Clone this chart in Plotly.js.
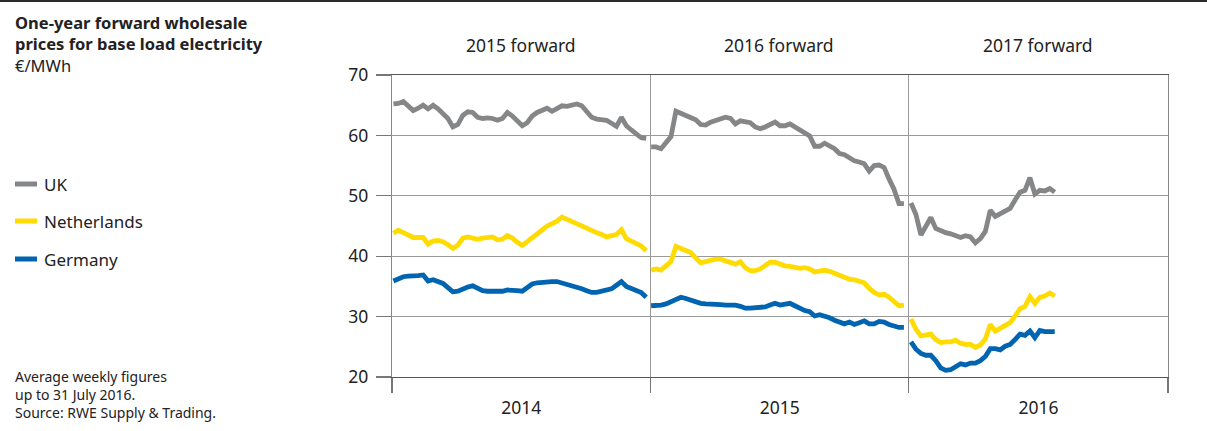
<!DOCTYPE html>
<html>
<head>
<meta charset="utf-8">
<script src="https://cdn.plot.ly/plotly-3.0.1.min.js"></script>
<style>
  html, body { margin: 0; padding: 0; background: #fff; }
  #wrap { position: relative; width: 1207px; height: 431px; }
  #rule { position: absolute; left: 0; top: 0; width: 1207px; height: 2px; background: #2b2b2b; z-index: 5; }
  #chart { width: 1207px; height: 431px; }
</style>
</head>
<body>
<div id="wrap"><div id="rule"></div><div id="chart"></div></div>
<script>
// ---- Data (€/MWh, average weekly one-year forward prices) ----
const segmentStarts = ['2014-01-03', '2015-01-02', '2016-01-04'];
const segmentLabels = ['2015 forward', '2016 forward', '2017 forward'];
const yearLabels = ['2014', '2015', '2016'];

const uk2014 = [65.2,65.3,65.6,64.9,64.1,64.5,65.0,64.4,65.0,64.4,63.5,62.8,61.4,61.8,63.3,63.9,63.8,63.0,62.8,62.9,62.8,62.5,62.8,63.8,63.2,62.5,61.6,62.1,63.2,63.8,64.2,64.5,64.0,64.4,64.9,64.8,65.1,65.2,64.9,64.0,63.0,62.7,62.6,62.5,62.0,61.5,63.0,61.6,60.9,60.3,59.6,59.5];
const uk2015 = [58.1,58.1,57.8,58.7,59.8,64.0,63.6,63.4,62.9,62.6,61.8,61.7,62.2,62.4,62.8,63.0,62.8,61.9,62.4,62.2,62.1,61.4,61.1,61.4,61.8,62.2,61.6,61.6,61.9,61.4,60.8,60.3,59.9,58.2,58.2,58.7,58.2,57.8,57.0,56.8,56.3,55.8,55.6,55.3,54.1,55.0,55.1,54.7,52.8,51.1,48.7,48.7];
const uk2016 = [48.8,46.9,43.5,44.9,46.4,44.6,44.2,43.9,43.7,43.4,43.1,43.4,43.2,42.2,42.9,44.1,47.6,46.6,47.0,47.6,47.9,49.3,50.6,50.9,53.0,50.3,50.9,50.8,51.2,50.6];

const nl2014 = [43.8,44.3,43.9,43.5,43.1,43.1,43.1,42.0,42.5,42.6,42.4,41.9,41.3,41.8,43.0,43.2,43.1,42.8,43.0,43.2,43.2,42.7,42.8,43.4,43.0,42.3,41.8,42.4,43.1,43.7,44.3,45.0,45.4,45.8,46.5,46.1,45.7,45.4,44.9,44.5,44.2,43.9,43.6,43.2,43.4,43.6,44.4,42.9,42.5,42.1,41.7,40.9];
const nl2015 = [37.7,37.9,37.7,38.3,39.1,41.6,41.3,41.1,40.6,39.7,38.9,39.1,39.4,39.5,39.5,39.2,38.9,38.7,39.1,38.1,37.6,37.6,37.9,38.4,39.0,39.0,38.6,38.4,38.3,38.1,38.0,38.1,37.9,37.4,37.5,37.7,37.5,37.2,36.9,36.4,36.2,36.1,35.9,35.6,34.7,34.0,33.6,33.7,33.2,32.5,31.8,31.9];
const nl2016 = [29.6,27.9,26.8,27.0,27.1,26.2,25.7,25.8,25.8,26.1,25.6,25.4,25.4,24.9,25.3,26.3,28.7,27.6,28.0,28.5,29.0,30.1,31.3,31.7,33.3,32.2,33.2,33.4,33.9,33.4];

const de2014 = [35.9,36.3,36.6,36.7,36.7,36.8,36.9,35.9,36.1,35.9,35.5,34.8,34.1,34.2,34.6,34.9,35.1,34.6,34.3,34.2,34.2,34.1,34.2,34.4,34.4,34.3,34.2,34.8,35.4,35.6,35.7,35.7,35.8,35.8,35.6,35.4,35.0,34.8,34.6,34.3,34.0,34.0,34.2,34.3,34.6,35.2,35.8,35.0,34.6,34.3,34.0,33.2];
const de2015 = [31.8,31.8,31.9,32.1,32.5,32.9,33.2,33.0,32.7,32.3,32.2,32.1,32.1,32.0,32.0,31.9,31.9,31.9,31.7,31.4,31.4,31.5,31.5,31.6,31.9,32.2,31.9,32.0,32.2,31.8,31.3,31.0,30.8,30.1,30.3,30.1,29.8,29.4,29.0,28.8,29.1,28.7,29.0,29.3,28.8,28.8,29.2,29.1,28.7,28.4,28.2,28.2];
const de2016 = [25.8,24.6,23.9,23.6,23.6,22.7,21.5,21.1,21.2,21.6,22.2,22.0,22.3,22.3,22.7,23.4,24.7,24.7,24.5,25.1,25.4,26.2,27.1,26.9,27.6,26.5,27.7,27.5,27.4,27.5];

const seriesNames = ['UK', 'Netherlands', 'Germany'];
const seriesColors = ['#858688', '#ffdb00', '#0064b1'];
const seriesData = [[uk2014, uk2015, uk2016], [nl2014, nl2015, nl2016], [de2014, de2015, de2016]];

// ---- helpers ----
function weeklyDates(start, n) {
  const out = [];
  const d0 = new Date(start + 'T00:00:00Z');
  for (let i = 0; i < n; i++) {
    const d = new Date(d0.getTime() + i * 7 * 86400000);
    out.push(d.toISOString().slice(0, 10));
  }
  return out;
}
function buildTrace(segments, name, color) {
  let x = [], y = [];
  segments.forEach((vals, k) => {
    if (k > 0) { x.push(null); y.push(null); }
    x = x.concat(weeklyDates(segmentStarts[k], vals.length));
    y = y.concat(vals);
  });
  return { type: 'scatter', mode: 'lines', name: name, x: x, y: y, connectgaps: false,
           line: { color: color, width: 4.8, shape: 'linear' }, showlegend: false, hoverinfo: 'skip' };
}

const traces = seriesData.map((s, i) => buildTrace(s, seriesNames[i], seriesColors[i]));

// ---- layout geometry ----
const W = 1207, H = 431, L = 392, R = 39, T = 75, B = 54;
const pw = W - L - R, ph = H - T - B;
const px = v => (v - L) / pw;            // pixel x -> paper
const py = v => 1 - (v - T) / ph;        // pixel y -> paper
const FONT = 'Noto Sans, Open Sans, sans-serif';
const TXT = '#222222';

const annotations = [];
// title block
annotations.push({ xref: 'paper', yref: 'paper', x: px(13), y: py(9), xanchor: 'left', yanchor: 'top', align: 'left', showarrow: false,
  text: '<b>One-year forward wholesale<br>prices for base load electricity</b><br>€/MWh', font: { family: FONT, size: 16.5, color: TXT } });
// header segment labels
const midYear = ['2014-07-02', '2015-07-02', '2016-07-02'];
segmentLabels.forEach((t, i) => annotations.push({ xref: 'x', yref: 'paper', x: midYear[i], y: py(45), yanchor: 'middle', xanchor: 'center', showarrow: false,
  text: t, font: { family: FONT, size: 17.5, color: TXT } }));
// legend
const legendY = [184, 221, 259];
const shapes = [];
seriesNames.forEach((n, i) => {
  shapes.push({ type: 'line', xref: 'paper', yref: 'paper', x0: px(15), x1: px(37), y0: py(legendY[i]), y1: py(legendY[i]),
    line: { color: seriesColors[i], width: 5 } });
  annotations.push({ xref: 'paper', yref: 'paper', x: px(42), y: py(legendY[i]), xanchor: 'left', yanchor: 'middle', showarrow: false,
    text: n, font: { family: FONT, size: 17, color: TXT } });
});
// footnote
annotations.push({ xref: 'paper', yref: 'paper', x: px(13), y: py(365), xanchor: 'left', yanchor: 'top', align: 'left', showarrow: false,
  text: 'Average weekly figures<br>up to 31 July 2016.<br>Source: RWE Supply &amp; Trading.', font: { family: FONT, size: 14, color: TXT } });

const layout = {
  width: W, height: H,
  margin: { l: L, r: R, t: T, b: B, pad: 0 },
  paper_bgcolor: '#ffffff', plot_bgcolor: '#ffffff',
  font: { family: FONT, color: TXT },
  showlegend: false,
  xaxis: {
    type: 'date', range: ['2014-01-01', '2017-01-01'],
    tick0: '2014-01-01', dtick: 'M12', tickformat: '%Y', ticklabelmode: 'period',
    ticks: 'outside', ticklen: 15, tickcolor: '#777777', tickwidth: 1.2,
    showgrid: true, gridcolor: '#9a9a9a', gridwidth: 1.2,
    showline: true, linecolor: '#555555', linewidth: 1.4, mirror: true,
    tickfont: { family: FONT, size: 17.5, color: TXT }, zeroline: false, fixedrange: true
  },
  yaxis: {
    range: [20, 70], dtick: 10, tick0: 20,
    ticks: 'outside', ticklen: 15, tickcolor: '#777777', tickwidth: 1.2,
    showgrid: true, gridcolor: '#9a9a9a', gridwidth: 1.2,
    showline: true, linecolor: '#888888', linewidth: 1.2, mirror: true,
    tickfont: { family: FONT, size: 17.5, color: TXT }, zeroline: false, fixedrange: true,
    ticklabelstandoff: 4
  },
  annotations: annotations,
  shapes: shapes
};

Plotly.newPlot('chart', traces, layout, { displayModeBar: false, staticPlot: true });
</script>
</body>
</html>
